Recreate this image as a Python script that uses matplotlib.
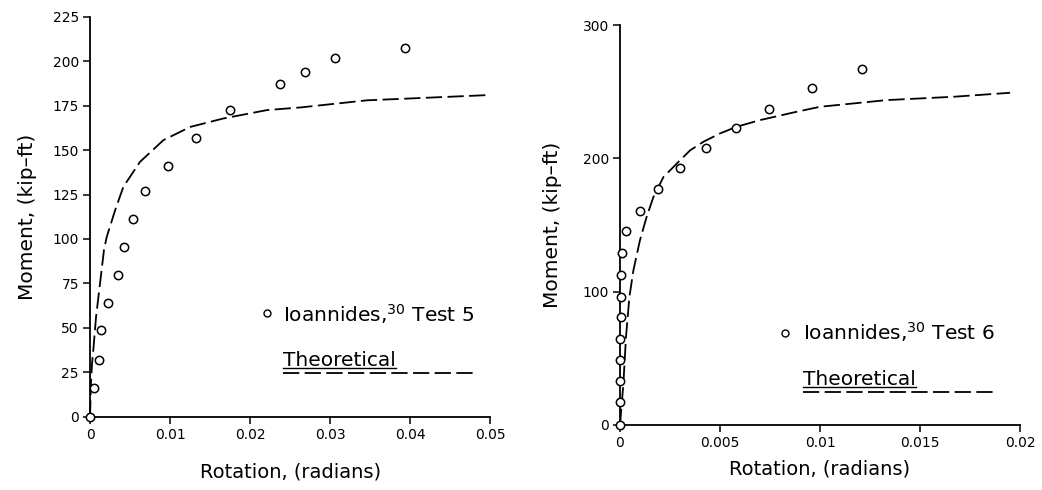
import matplotlib
matplotlib.use('Agg')
import matplotlib.pyplot as plt

# Test 5 (left) - measured points
rot5 = [0, 0.0005, 0.00117, 0.00133, 0.0023, 0.0035, 0.0043, 0.0054, 0.0069,
        0.00975, 0.0133, 0.0175, 0.02375, 0.0269, 0.0306, 0.0394]
mom5 = [0, 16.3, 32, 48.7, 64, 79.7, 95.6, 111, 127,
        141, 157, 172.5, 187, 194, 202, 207.4]

# Test 5 theoretical curve
th_rot5 = [0, 0.00012, 0.00025, 0.00041, 0.00075, 0.00125, 0.00175, 0.00208, 0.003125,
           0.00417, 0.00625, 0.00917, 0.0125, 0.01667, 0.0221, 0.0263, 0.0346, 0.05]
th_mom5 = [0, 19, 30, 37.5, 56, 75, 94, 101, 116,
           129.4, 143.4, 155.6, 163, 167.8, 172.5, 174, 178, 181]

# Test 6 (right) - measured points
rot6 = [0, 0, 0, 0, 0.00002, 0.00003, 0.00003, 0.00003, 0.00012,
        0.00028, 0.001, 0.0019, 0.003, 0.0043, 0.0058, 0.00747, 0.00958, 0.01208]
mom6 = [0, 17, 33, 49, 64.5, 81, 96, 112.5, 129,
        145.5, 160.5, 177, 193, 208, 222.75, 237, 252.75, 267]

# Test 6 theoretical curve
th_rot6 = [0, 0.00017, 0.0003, 0.00047, 0.00067, 0.001, 0.00133, 0.00167, 0.00217,
           0.00283, 0.0035, 0.00417, 0.005, 0.00583, 0.007, 0.00883, 0.01, 0.01333,
           0.01667, 0.0195]
th_mom6 = [0, 31, 66, 96, 116, 138.75, 156, 171, 186,
           196, 206, 212.5, 218.75, 223.75, 228.75, 235, 238.75, 243.75,
           246.25, 249.25]

xt5 = [0, 0.01, 0.02, 0.03, 0.04, 0.05]
xl5 = ['0', '0.01', '0.02', '0.03', '0.04', '0.05']
yt5 = [0, 25, 50, 75, 100, 125, 150, 175, 200, 225]
xt6 = [0, 0.005, 0.01, 0.015, 0.02]
xl6 = ['0', '0.005', '0.01', '0.015', '0.02']
yt6 = [0, 100, 200, 300]

plt.rcParams['font.family'] = ['DejaVu Sans']

fig = plt.figure(figsize=(10.42, 4.9), dpi=100)
ax1 = fig.add_axes([0.0864, 0.1497, 0.384, 0.816])
ax2 = fig.add_axes([0.595, 0.1327, 0.384, 0.816])

dash = (0, (9, 3))


def style(ax, xt, xl, yt, ylim, xlim, xpad, ypad):
    ax.set_xlim(xlim)
    ax.set_ylim(ylim)
    ax.set_xticks(xt)
    ax.set_xticklabels(xl)
    ax.set_yticks(yt)
    for s in ['top', 'right']:
        ax.spines[s].set_visible(False)
    for s in ['left', 'bottom']:
        ax.spines[s].set_linewidth(1.3)
    ax.tick_params(direction='out', length=5, width=1.1, labelsize=10, pad=3)
    ax.set_xlabel('Rotation, (radians)', fontsize=14, labelpad=xpad)
    ax.set_ylabel('Moment, (kip–ft)', fontsize=14.5, labelpad=ypad)


def legend_block(ax, mx, my, tx, y1, y2, yu, yd, xe, label):
    ax.plot([mx], [my], 'o', mfc='white', mec='black', mew=1.0, ms=5, transform=ax.transAxes)
    ax.text(tx, y1, label, fontsize=14.5, va='baseline', transform=ax.transAxes)
    t = ax.text(tx, y2, 'Theoretical', fontsize=14.5, va='baseline', transform=ax.transAxes)
    fig.canvas.draw()
    bb = t.get_window_extent().transformed(ax.transAxes.inverted())
    ax.plot([tx, bb.x1], [yu, yu], color='black', lw=1.0, transform=ax.transAxes)
    ax.plot([tx, xe], [yd, yd], color='black', lw=1.3, ls=dash, transform=ax.transAxes)


# left panel
ax1.plot(th_rot5, th_mom5, color='black', lw=1.3, ls=dash, clip_on=False)
ax1.plot(rot5, mom5, 'o', mfc='white', mec='black', mew=1.1, ms=6, clip_on=False, zorder=3)
style(ax1, xt5, xl5, yt5, (0, 225), (0, 0.05), 15, 11)
legend_block(ax1, 0.442, 0.259, 0.483, 0.2375, 0.1275, 0.122, 0.109, 0.9625,
             'Ioannides,$^{30}$ Test 5')

# right panel
ax2.plot(th_rot6, th_mom6, color='black', lw=1.3, ls=dash, clip_on=False)
ax2.plot(rot6, mom6, 'o', mfc='white', mec='black', mew=1.1, ms=6, clip_on=False, zorder=3)
style(ax2, xt6, xl6, yt6, (0, 300), (0, 0.02), 7, 15)
legend_block(ax2, 0.4125, 0.231, 0.457, 0.2125, 0.1, 0.094, 0.083, 0.9325,
             'Ioannides,$^{30}$ Test 6')

fig.savefig('out.png', dpi=100)
